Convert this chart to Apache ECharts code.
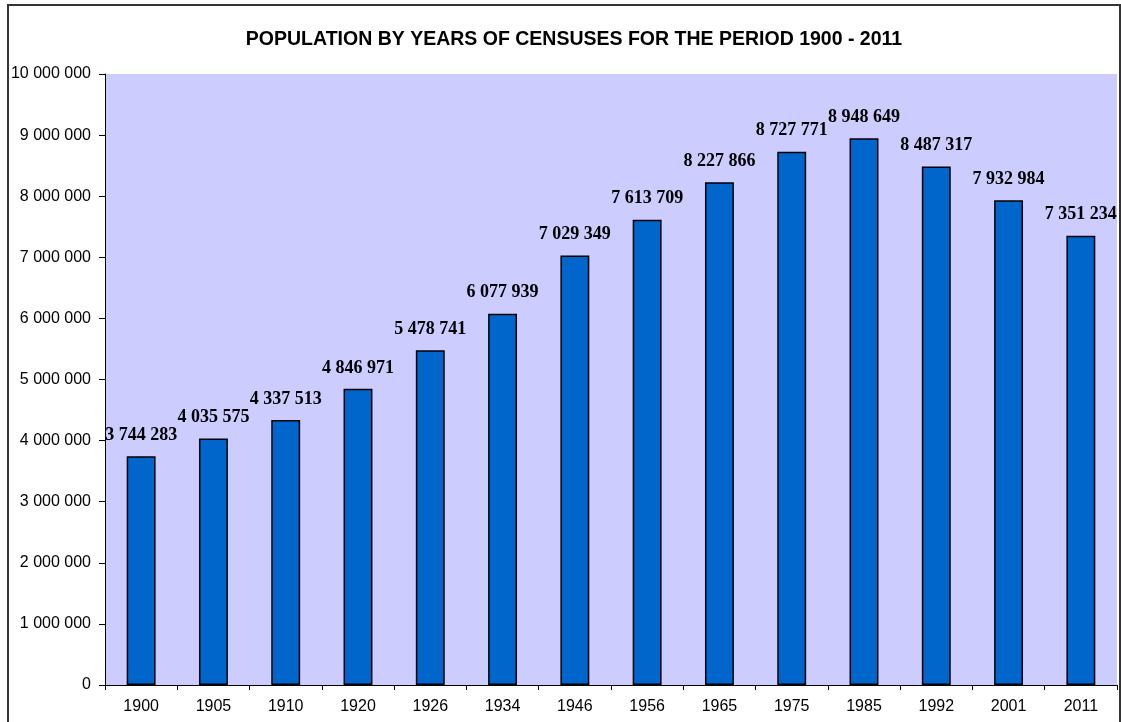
<!DOCTYPE html>
<html>
<head>
<meta charset="utf-8">
<script src="https://cdn.jsdelivr.net/npm/echarts@6/dist/echarts.min.js"></script>
<style>
html,body{margin:0;padding:0;background:#fff;}
#chart{width:1121px;height:722px;}
</style>
</head>
<body>
<div id="chart"></div>
<script>
const titleText = 'POPULATION BY YEARS OF CENSUSES FOR THE PERIOD 1900 - 2011';
const years = ['1900','1905','1910','1920','1926','1934','1946','1956','1965','1975','1985','1992','2001','2011'];
const population = [3744283,4035575,4337513,4846971,5478741,6077939,7029349,7613709,8227866,8727771,8948649,8487317,7932984,7351234];
const yMin = 0, yMax = 10000000, yStep = 1000000;

function fmt(v){
  return String(Math.round(v)).replace(/\B(?=(\d{3})+(?!\d))/g, ' ');
}

const chart = echarts.init(document.getElementById('chart'), null, {renderer:'canvas'});
chart.setOption({
  animation:false,
  backgroundColor:'#ffffff',
  title:{
    text:titleText,
    left:569, top:25, textAlign:'center',
    textStyle:{fontFamily:'Liberation Sans, Arial, sans-serif', fontWeight:'bold', fontSize:19.5, color:'#000'}
  },
  graphic:[{
    type:'rect', z:-1, silent:true,
    shape:{x:8, y:5, width:1112, height:740},
    style:{fill:'none', stroke:'#333', lineWidth:2}
  }],
  grid:{left:105, top:74, right:4, bottom:37, show:true, backgroundColor:'#CCCCFF', borderWidth:0},
  xAxis:{
    type:'category', data:years,
    axisLine:{lineStyle:{color:'#000', width:1}},
    axisTick:{show:true, alignWithLabel:false, length:5, lineStyle:{color:'#000'}},
    axisLabel:{color:'#000', fontFamily:'Liberation Sans, Arial, sans-serif', fontSize:16, margin:14}
  },
  yAxis:{
    type:'value', min:yMin, max:yMax, interval:yStep,
    axisLine:{show:true, lineStyle:{color:'#000', width:1}},
    axisTick:{show:true, length:6, lineStyle:{color:'#000'}},
    splitLine:{show:false},
    axisLabel:{color:'#000', fontFamily:'Liberation Sans, Arial, sans-serif', fontSize:16, margin:14, formatter:fmt}
  },
  series:[{
    type:'bar', data:population, barWidth:'40%',
    itemStyle:{color:'#0066CC', borderColor:'#000', borderWidth:1.5},
    label:{show:true, position:'top', distance:12, formatter:p=>fmt(p.value),
      fontFamily:'Liberation Serif, Times New Roman, serif', fontWeight:'bold', fontSize:18, color:'#000'}
  }]
});
</script>
</body>
</html>
